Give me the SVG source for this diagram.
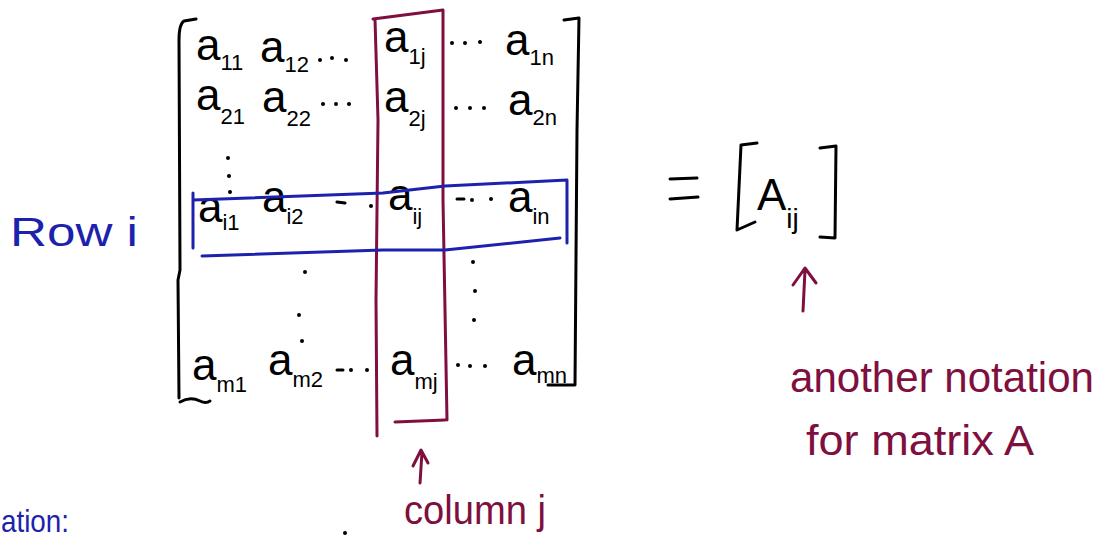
<svg xmlns="http://www.w3.org/2000/svg" width="1099" height="548" viewBox="0 0 1099 548">
<style>
.ink{fill:none;stroke:#000;stroke-width:3;stroke-linecap:round;stroke-linejoin:round}
.red{fill:none;stroke:#7e0f3e;stroke-width:3;stroke-linecap:round;stroke-linejoin:round}
.blue{fill:none;stroke:#1c22ad;stroke-width:3;stroke-linecap:round;stroke-linejoin:round}
.m{font-family:"Liberation Sans",sans-serif;font-size:44px;fill:#000}
.s{font-size:22px}
.lr{font-family:"Liberation Sans",sans-serif;fill:#7e0f3e}
.lb{font-family:"Liberation Sans",sans-serif;fill:#1c22ad}
.d{fill:#000}
</style>
<rect width="1099" height="548" fill="#fff"/>
<!-- matrix brackets -->
<path class="ink" d="M196,19 L184,21 Q179,24 179,40 L180,270 L178,280 L179,398"/>
<path class="ink" d="M180,402 Q190,396 200,401 Q206,404 210,401"/>
<path class="ink" d="M564,20 L579,18 L577,130 L575,385 L548,385"/>
<!-- entries -->
<text class="m" x="196" y="60">a<tspan class="s" dy="10">11</tspan></text>
<text class="m" x="260" y="62">a<tspan class="s" dy="10">12</tspan></text>
<text class="m" x="384" y="52">a<tspan class="s" dy="12">1j</tspan></text>
<text class="m" x="505" y="55">a<tspan class="s" dy="10">1n</tspan></text>
<text class="m" x="196" y="110">a<tspan class="s" dy="14">21</tspan></text>
<text class="m" x="262" y="112">a<tspan class="s" dy="14">22</tspan></text>
<text class="m" x="384" y="112">a<tspan class="s" dy="14">2j</tspan></text>
<text class="m" x="508" y="115">a<tspan class="s" dy="10">2n</tspan></text>
<text class="m" x="198" y="222">a<tspan class="s" dy="8">i1</tspan></text>
<text class="m" x="262" y="212">a<tspan class="s" dy="12">i2</tspan></text>
<text class="m" x="388" y="210">a<tspan class="s" dy="14">ij</tspan></text>
<text class="m" x="508" y="212">a<tspan class="s" dy="12">in</tspan></text>
<text class="m" x="192" y="380">a<tspan class="s" dy="12">m1</tspan></text>
<text class="m" x="268" y="375">a<tspan class="s" dy="12">m2</tspan></text>
<text class="m" x="390" y="375">a<tspan class="s" dy="14">mj</tspan></text>
<text class="m" x="512" y="375">a<tspan class="s" dy="8">mn</tspan></text>
<!-- dots -->
<g class="d">
<circle cx="320" cy="60" r="2"/><circle cx="332" cy="58" r="2"/><circle cx="346" cy="60" r="2"/>
<circle cx="452" cy="43" r="2"/><circle cx="465" cy="43" r="2"/><circle cx="480" cy="42" r="2"/>
<circle cx="323" cy="104" r="2"/><circle cx="336" cy="104" r="2"/><circle cx="349" cy="104" r="2"/>
<circle cx="456" cy="108" r="2"/><circle cx="470" cy="108" r="2"/><circle cx="484" cy="108" r="2"/>
<circle cx="228" cy="158" r="2"/><circle cx="229" cy="176" r="2"/><circle cx="230" cy="192" r="2"/>
<circle cx="472" cy="200" r="2"/><circle cx="491" cy="199" r="2"/>
<circle cx="371" cy="206" r="2"/>
<circle cx="305" cy="272" r="2"/><circle cx="299" cy="315" r="2"/><circle cx="302" cy="341" r="2"/>
<circle cx="473" cy="262" r="2"/><circle cx="475" cy="291" r="2"/><circle cx="474" cy="320" r="2"/>
<circle cx="351" cy="370" r="2"/><circle cx="367" cy="370" r="2"/>
<circle cx="458" cy="365" r="2"/><circle cx="470" cy="366" r="2"/><circle cx="485" cy="366" r="2"/>
<circle cx="345" cy="533" r="2"/>
</g>
<path class="ink" d="M337,202 L345,203 M457,199 L464,199 M337,370 L343,370"/>
<!-- column j box -->
<path class="red" d="M373,19 L443,10 L443,200 L447,420 M375,19 L378,120 L376,300 L377,436 M395,422 L445,420"/>
<!-- row i box -->
<path class="blue" d="M193,200 L383,193 L445,186 L567,180 L567,243 M193,193 L193,248 M202,256 L383,250 L445,250 L560,238"/>
<!-- column label -->
<path class="red" d="M420,483 L422,452 M413,466 L421,450 L428,463"/>
<text class="lr" x="404" y="524" font-size="40" textLength="142" lengthAdjust="spacingAndGlyphs">column j</text>
<!-- row label -->
<text class="lb" x="10" y="246" font-size="40" textLength="128" lengthAdjust="spacingAndGlyphs">Row i</text>
<text class="lb" x="1" y="532" font-size="32" textLength="68" lengthAdjust="spacingAndGlyphs">ation:</text>
<!-- equals A_ij -->
<path class="ink" d="M670,179 L697,178 M670,199 L698,197"/>
<path class="ink" d="M757,143 L741,145 L737,230 L755,222"/>
<path class="ink" d="M820,148 L836,146 L835,238 L820,237"/>
<text class="m" x="757" y="210" font-size="60">A<tspan font-size="28" dy="18">ij</tspan></text>
<!-- another notation -->
<path class="red" d="M803,311 L805,270 M793,285 L805,268 L816,283"/>
<text class="lr" x="790" y="392" font-size="42" textLength="304" lengthAdjust="spacingAndGlyphs">another notation</text>
<text class="lr" x="806" y="455" font-size="42" textLength="228" lengthAdjust="spacingAndGlyphs">for matrix A</text>
</svg>
